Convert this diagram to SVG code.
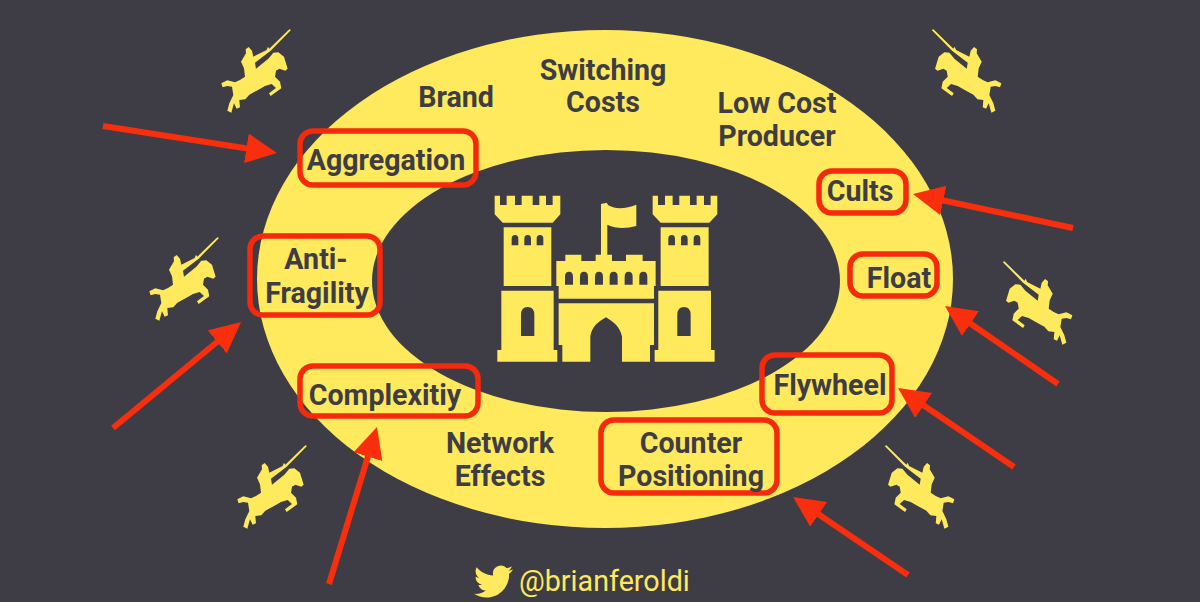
<svg xmlns="http://www.w3.org/2000/svg" width="1200" height="602" viewBox="0 0 1200 602">
<style>
.y{fill:#ffe95c}
.d{fill:#3e3d45}
.t{font-family:Roboto,"Liberation Sans",sans-serif;font-weight:700;font-size:28.6px;fill:#3e3d45;text-anchor:middle}
.b{fill:none;stroke:#f52a0c;stroke-width:5.5}
.a{fill:none;stroke:#f92e0c;stroke-width:6;marker-end:url(#h)}
</style>
<defs>
<marker id="h" markerUnits="userSpaceOnUse" markerWidth="34" markerHeight="34" refX="6" refY="15" orient="auto"><path d="M0 0L31 15L0 30Z" fill="#f92e0c"/></marker>
<g id="knight"><path transform="scale(.3333)" class="y" d="M453 30L392 92L345 128L348 146L385 116L400 98L415 97L432 110L443 146L436 152L418 146L408 152L405 170L420 185L424 205L392 228L387 220L408 204L395 192L375 198L350 212L328 224L316 238L298 240L300 262L290 266L282 250L274 278L262 272L268 250L280 225L276 200L262 198L248 202L244 190L262 181L285 187L300 180L315 170L312 145L303 125L318 100L317 88L326 81L336 92L340 110L380 90L384 80L388 86L448 28Z"/></g>
</defs>
<rect width="1200" height="602" fill="#3e3d45"/>
<g id="moat">
<ellipse cx="605" cy="279" rx="348" ry="249" class="y"/>
<ellipse cx="606" cy="281" rx="234" ry="131" class="d"/>
</g>
<g id="castle" transform="translate(480 180) scale(.3333)">
<path class="y" d="M44 47H60V75H80V47H105V75H125V47H158V75H178V47H198V75H218V47H241V103L218 128H68L44 103ZM71 142H214V318H71ZM64 332H221V510H232V545H52V510H64ZM518 47H534V75H555V47H578V75H598V47H630V75H650V47H672V75H692V47H712V103L688 128H542L518 103ZM542 142H686V318H542ZM535 332H693V510H704V545H524V510H535ZM229 243H256V224H304V243H347V224H363V72L380 68L385 76C410 90 440 85 469 74V138C440 145 410 148 382 134V224H396V243H438V224H488V243H527V318H522V356H236V318H229ZM236 370H522V495H510V545H426V470C420 440 400 425 378 412C355 425 335 440 331 470V545H247V495H236Z"/>
<path class="d" d="M95 196V176Q95 165 105 165Q115 165 115 176V196ZM133 196V176Q133 165 143 165Q153 165 153 176V196ZM170 196V176Q170 165 180 165Q190 165 190 176V196ZM565 196V176Q565 165 575 165Q585 165 585 176V196ZM603 196V176Q603 165 613 165Q623 165 623 176V196ZM641 196V176Q641 165 651 165Q661 165 661 176V196ZM255 314V290Q255 275 267 275Q279 275 279 290V314ZM300 314V290Q300 275 312 275Q324 275 324 290V314ZM345 314V290Q345 275 357 275Q369 275 369 290V314ZM389 314V290Q389 275 401 275Q413 275 413 290V314ZM434 314V290Q434 275 446 275Q458 275 458 290V314ZM478 314V290Q478 275 490 275Q502 275 502 290V314ZM123 468V405Q123 381 143 381Q163 381 163 405V468ZM592 468V405Q592 381 612 381Q632 381 632 405V468Z"/>
</g>
<g id="knights">
<use href="#knight" transform="translate(140 20)"/>
<use href="#knight" transform="translate(68 228)"/>
<use href="#knight" transform="translate(156 436)"/>
<use href="#knight" transform="translate(1082.7 20) scale(-1 1)"/>
<use href="#knight" transform="translate(1153.7 252) scale(-1 1)"/>
<use href="#knight" transform="translate(1035.7 436) scale(-1 1)"/>
</g>
<g id="node-brand"><text class="t" x="456" y="107">Brand</text></g>
<g id="node-switching"><text class="t" x="603" y="80">Switching</text><text class="t" x="603" y="112">Costs</text></g>
<g id="node-lowcost"><text class="t" x="777" y="113">Low Cost</text><text class="t" x="777" y="146">Producer</text></g>
<g id="node-aggregation"><rect class="b" x="300" y="131" width="176" height="54" rx="13"/><text class="t" x="386" y="170">Aggregation</text></g>
<g id="node-cults"><rect class="b" x="819" y="171" width="87" height="42" rx="13"/><text class="t" x="860" y="201">Cults</text></g>
<g id="node-antifragility"><rect class="b" x="250" y="236" width="130" height="79" rx="13"/><text class="t" x="316" y="269">Anti-</text><text class="t" x="317" y="303">Fragility</text></g>
<g id="node-float"><rect class="b" x="850" y="254" width="87" height="42" rx="13"/><text class="t" x="899" y="288">Float</text></g>
<g id="node-flywheel"><rect class="b" x="762" y="355" width="130" height="58" rx="13"/><text class="t" x="830" y="395">Flywheel</text></g>
<g id="node-complexity"><rect class="b" x="300" y="366" width="178" height="50" rx="13"/><text class="t" x="385" y="405">Complexitiy</text></g>
<g id="node-network"><text class="t" x="500" y="453">Network</text><text class="t" x="500" y="486">Effects</text></g>
<g id="node-counter"><rect class="b" x="601" y="420" width="176" height="73" rx="13"/><text class="t" x="691" y="453">Counter</text><text class="t" x="691" y="486">Positioning</text></g>
<g id="connectors">
<path class="a" d="M103 126L252.3 149.2"/>
<path class="a" d="M1073 228L937.5 199.2"/>
<path class="a" d="M1058 384L965.6 320.2"/>
<path class="a" d="M1014 467L918.7 402.1"/>
<path class="a" d="M908 575L813.7 511"/>
<path class="a" d="M329 584L369.7 450.9"/>
<path class="a" d="M113 428L221.8 338"/>
</g>
<g id="credit">
<path class="y" transform="translate(474 562) scale(1.63)" d="M23.953 4.57a10 10 0 01-2.825.775 4.958 4.958 0 002.163-2.723c-.951.555-2.005.959-3.127 1.184a4.92 4.92 0 00-8.384 4.482C7.69 8.095 4.067 6.13 1.64 3.162a4.822 4.822 0 00-.666 2.475c0 1.71.87 3.213 2.188 4.096a4.904 4.904 0 01-2.228-.616v.06a4.923 4.923 0 003.946 4.827 4.996 4.996 0 01-2.212.085 4.936 4.936 0 004.604 3.417 9.867 9.867 0 01-6.102 2.105c-.39 0-.779-.023-1.17-.067a13.995 13.995 0 007.557 2.209c9.053 0 13.998-7.496 13.998-13.985 0-.21 0-.42-.015-.63A9.935 9.935 0 0024 4.59z"/>
<text x="519" y="591" style="font-family:Roboto,'Liberation Sans',sans-serif;font-size:28.7px;fill:#ffe95c">@brianferoldi</text>
</g>
</svg>
